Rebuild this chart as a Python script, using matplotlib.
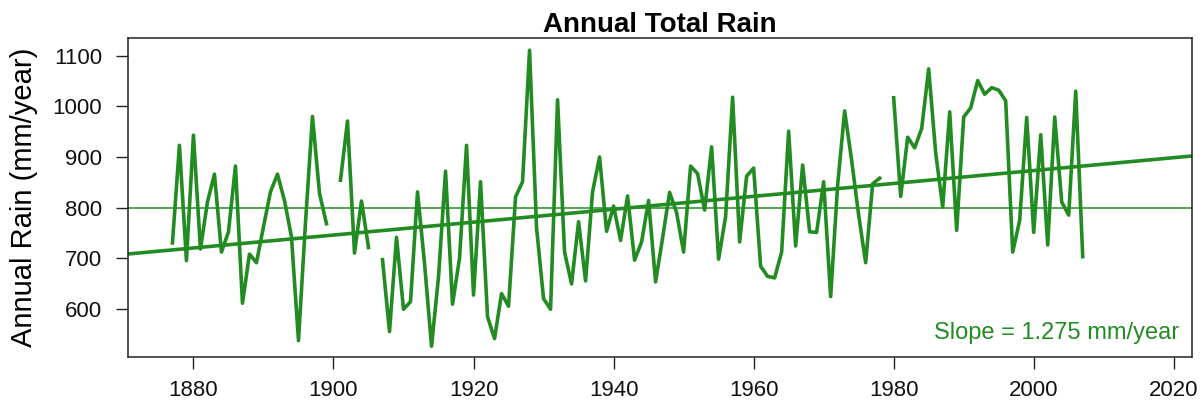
import numpy as np
import matplotlib.pyplot as plt

plt.rcParams["font.family"] = ["Liberation Sans", "DejaVu Sans"]

# annual totals (mm), one value per year from 1877; nan = missing year
FIRST_YEAR = 1877
rain = [
    730, 923, 695,
    943, 718, 811, 866, 712, 752, 882, 611, 708, 691,
    762, 831, 866, 814, 742, 537, 770, 980, 828, 768,
    np.nan, 854, 971, 710, 813, 721, np.nan, 697, 555, 741,
    599, 614, 831, 690, 526, 663, 872, 609, 700, 923,
    627, 851, 584, 541, 630, 605, 821, 851, 1111, 760,
    620, 599, 1013, 712, 649, 772, 655, 831, 900, 753,
    803, 735, 823, 696, 732, 814, 653, 740, 830, 790,
    712, 882, 867, 795, 920, 698, 782, 1018, 732, 862,
    878, 684, 664, 661, 712, 951, 724, 884, 752, 751,
    851, 624, 845, 991, 893, 785, 691, 847, 858, np.nan,
    1017, 822, 939, 918, 956, 1074, 908, 801, 989, 755,
    979, 997, 1051, 1024, 1037, 1032, 1011, 712, 775, 978,
    751, 944, 726, 979, 811, 785, 1030, 703,
]
years = np.arange(FIRST_YEAR, FIRST_YEAR + len(rain))
rain = np.array(rain, dtype=float)

SLOPE = 1.275        # mm/year
REF_LEVEL = 800      # horizontal reference line
x_ticks = [1880, 1900, 1920, 1940, 1960, 1980, 2000, 2020]
y_ticks = [600, 700, 800, 900, 1000, 1100]

green = "#228B22"

# trend line goes through the mean point of the observed years
ok = ~np.isnan(rain)
intercept = rain[ok].mean() - SLOPE * years[ok].mean()

fig = plt.figure(figsize=(12.04, 4.05), dpi=100)
ax = fig.add_axes([0.106, 0.119, 0.884, 0.787])

ax.plot(years, rain, color=green, lw=2.6)
ax.axhline(REF_LEVEL, color=green, lw=1.1)
ax.axline((0, intercept), slope=SLOPE, color=green, lw=2.6)

ax.set_xlim(1870.6, 2022.6)
ax.set_ylim(505, 1135)
ax.set_xticks(x_ticks)
ax.set_yticks(y_ticks)
ax.tick_params(axis="both", direction="out", length=8.5, width=1.0,
               color="#222222", labelsize=16, labelcolor="#111111")
ax.tick_params(axis="y", pad=10)
ax.tick_params(axis="x", pad=8)
for s in ax.spines.values():
    s.set_linewidth(1.1)
    s.set_color("#222222")

ax.set_title("Annual Total Rain", fontsize=20, fontweight="bold", pad=4)
ax.set_ylabel("Annual Rain (mm/year)", fontsize=21, labelpad=10)
ax.text(0.988, 0.075, f"Slope = {SLOPE:.3f} mm/year", transform=ax.transAxes,
        ha="right", va="center", fontsize=17, color=green)

fig.savefig("out.png", dpi=100)
